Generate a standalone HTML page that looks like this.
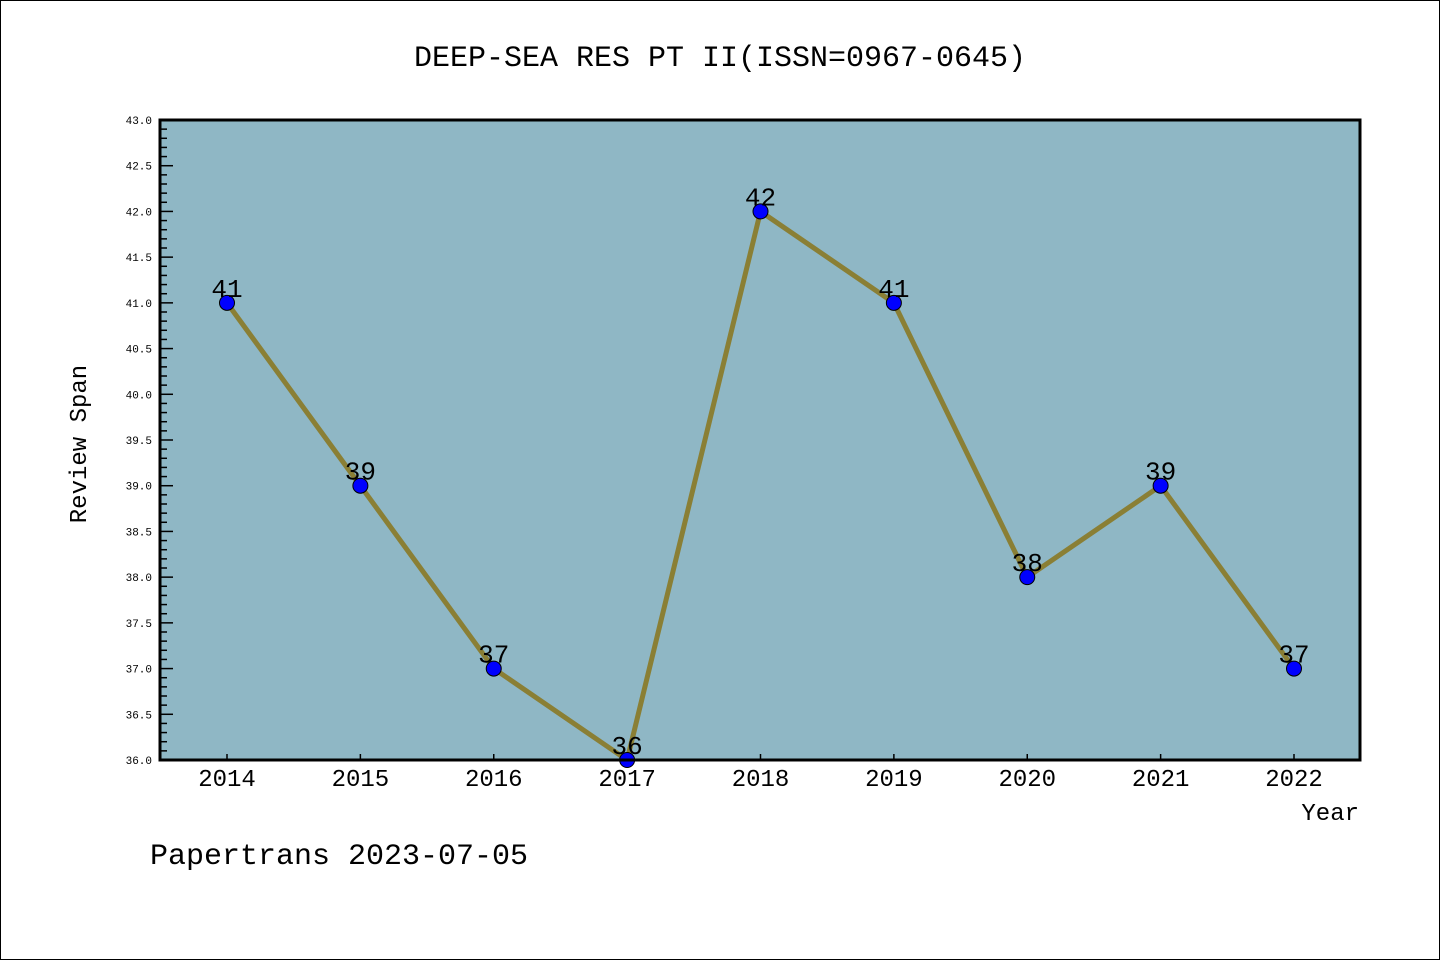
<!DOCTYPE html>
<html><head><meta charset="utf-8"><style>
body{margin:0;background:#fff}
svg{display:block;font-family:"Liberation Mono","DejaVu Sans Mono",monospace}
</style></head><body>
<svg id="c" width="1440" height="960">
<rect x="0.5" y="0.5" width="1439" height="959" fill="#fff" stroke="#000"/>
<text x="720" y="66" font-size="30" text-anchor="middle">DEEP-SEA RES PT II(ISSN=0967-0645)</text>
<rect x="160" y="120" width="1200" height="640" fill="#8fb7c5"/>
<g id="g"></g>
<rect x="160" y="120" width="1200" height="640" fill="none" stroke="#000" stroke-width="3"/>
<text x="86" y="444" font-size="24" text-anchor="middle" transform="rotate(-90 86 444)">Review Span</text>
<text x="1359" y="820" font-size="24" text-anchor="end">Year</text>
<text x="150" y="864" font-size="30">Papertrans 2023-07-05</text>
</svg>
<script>
const years=["2014","2015","2016","2017","2018","2019","2020","2021","2022"];
const values=[41,39,37,36,42,41,38,39,37];
const yTicks=["36.0","36.5","37.0","37.5","38.0","38.5","39.0","39.5","40.0","40.5","41.0","41.5","42.0","42.5","43.0"];
const NS="http://www.w3.org/2000/svg";
const g=document.getElementById('g');
const yMin=36,yMax=43;
const y=v=>760-(v-yMin)/(yMax-yMin)*640;
const x=i=>227+i*(1294-227)/(years.length-1);
function mk(t,a){const e=document.createElementNS(NS,t);for(const k in a)e.setAttribute(k,a[k]);g.appendChild(e);return e;}
for(let k=0;k<=70;k++){const v=yMin+k*0.1;const major=k%5===0;
 const l=mk('line',{x1:160,x2:160+(major?13:7),y1:y(v),y2:y(v),stroke:'#000','stroke-width':1.5});
 
 }
yTicks.forEach(s=>{const t=mk('text',{x:152,y:y(parseFloat(s))+4,'font-size':11,'text-anchor':'end'});t.textContent=s;
 
 });
years.forEach((s,i)=>{const l=mk('line',{x1:x(i),x2:x(i),y1:760,y2:754,stroke:'#000','stroke-width':1.5});
 
 
 const t=mk('text',{x:x(i),y:786,'font-size':24,'text-anchor':'middle'});t.textContent=s;
 
 });
const p=mk('polyline',{points:values.map((v,i)=>x(i)+','+y(v)).join(' '),fill:'none',stroke:'#8a7f35','stroke-width':5});


values.forEach((v,i)=>{const c=mk('circle',{cx:x(i),cy:y(v),r:7.5,fill:'#0000ff',stroke:'#000','stroke-width':1});
 
 
 const t=mk('text',{x:x(i),y:y(v)-6,'font-size':26,'text-anchor':'middle'});t.textContent=v;
 
 });
</script>
</body></html>
